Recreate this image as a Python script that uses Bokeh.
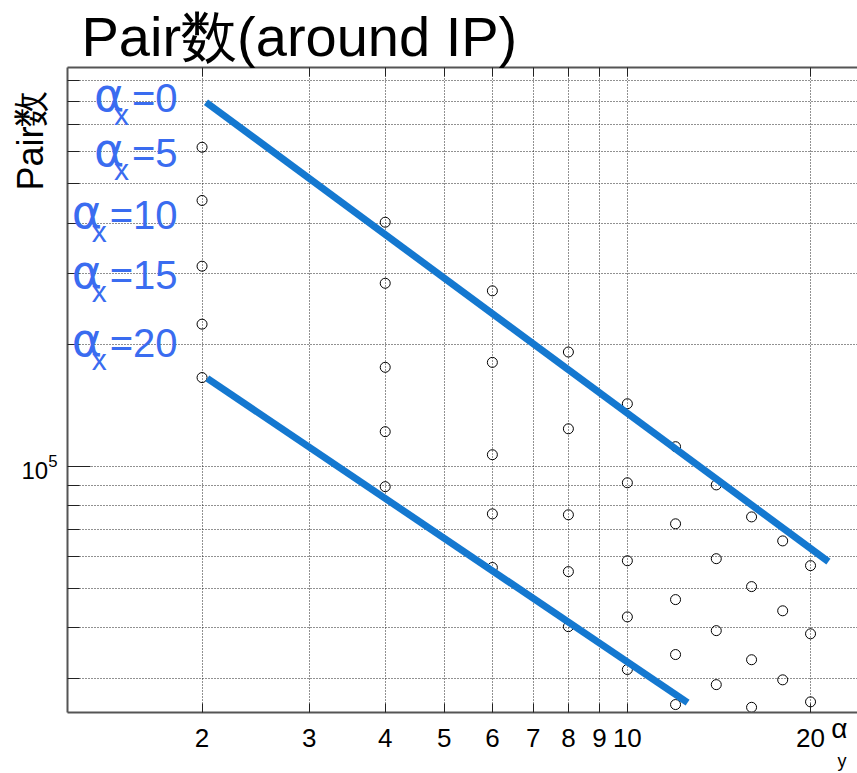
import numpy as np
from bokeh.plotting import figure
from bokeh.models import Range1d, FixedTicker, LogAxis, Label, Title
from bokeh.embed import file_html
from bokeh.resources import INLINE

# alpha_y settings (horizontal axis)
alpha_y = [2, 4, 6, 8, 10, 12, 14, 16, 18, 20]

# Pair counts around the IP, one list per alpha_x setting
pairs_ax0 = [6.16e5, 4.02e5, 2.72e5, 1.92e5, 1.43e5, 1.12e5, 9.01e4, 7.51e4, 6.55e4, 5.69e4]
pairs_ax5 = [4.55e5, 2.84e5, 1.81e5, 1.24e5, 9.12e4, 7.22e4, 5.92e4, 5.05e4, 4.40e4, 3.86e4]
pairs_ax10 = [3.13e5, 1.76e5, 1.07e5, 7.60e4, 5.85e4, 4.69e4, 3.93e4, 3.33e4, 2.97e4, 2.62e4]
pairs_ax15 = [2.25e5, 1.22e5, 7.64e4, 5.50e4, 4.25e4, 3.43e4, 2.89e4, 2.54e4]
pairs_ax20 = [1.66e5, 8.92e4, 5.63e4, 4.02e4, 3.15e4, 2.58e4]

alpha_x_labels = ["0", "5", "10", "15", "20"]
series = [pairs_ax0, pairs_ax5, pairs_ax10, pairs_ax15, pairs_ax20]

# Power-law guide lines (end points)
guide_upper_x = [2.03, 21.4]
guide_upper_y = [7.96e5, 5.82e4]
guide_lower_x = [2.04, 12.56]
guide_lower_y = [1.653e5, 2.61e4]

# Axis ticks
x_ticks = [2, 3, 4, 5, 6, 7, 8, 9, 10, 20]
y_major_ticks = [1e5]
y_minor_ticks = [3e4, 4e4, 5e4, 6e4, 7e4, 8e4, 9e4,
                 2e5, 3e5, 4e5, 5e5, 6e5, 7e5, 8e5, 9e5]

FONT = "Liberation Sans"
LABEL_BLUE = "#3a6cf0"
LINE_BLUE = "#1478d0"
AXIS_GREY = "#555555"
TICK_COLOR = "#222222"

# frame geometry on the canvas
LEFT, TOP, BOTTOM = 67, 67, 713

p = figure(width=857, height=773,
           x_axis_type="log", y_axis_type="log",
           x_range=Range1d(1.202, 23.89), y_range=Range1d(2.466e4, 9.70e5),
           min_border_left=LEFT, min_border_right=0,
           min_border_top=TOP, min_border_bottom=773 - BOTTOM,
           output_backend="svg", toolbar_location=None)
p.outline_line_color = None
p.background_fill_color = "white"
p.border_fill_color = "white"

# title
p.title.text = "Pair数(around IP)"
p.title.text_font = FONT
p.title.text_font_size = "56px"
p.title.text_font_style = "normal"
p.title.text_color = "black"
p.title.align = "left"
p.title.offset = 14
p.title.standoff = 0

# dotted grid on every tick position
p.xgrid.ticker = FixedTicker(ticks=x_ticks)
p.ygrid.ticker = FixedTicker(ticks=sorted(y_major_ticks + y_minor_ticks))
for g in (p.xgrid, p.ygrid):
    g.grid_line_color = "#222222"
    g.grid_line_dash = "1 2"
    g.grid_line_width = 1

# bottom axis
xa = p.xaxis[0]
xa.ticker = FixedTicker(ticks=x_ticks, minor_ticks=[])
xa.major_tick_in = 9
xa.major_tick_out = 0
xa.major_tick_line_color = TICK_COLOR
xa.axis_line_color = AXIS_GREY
xa.axis_line_width = 2
xa.major_label_text_font = FONT
xa.major_label_text_font_size = "26px"
xa.major_label_text_color = "black"
xa.major_label_standoff = 16

# left axis
ya = p.yaxis[0]
ya.ticker = FixedTicker(ticks=y_major_ticks, minor_ticks=y_minor_ticks)
ya.major_tick_in = 23
ya.major_tick_out = 0
ya.minor_tick_in = 12
ya.minor_tick_out = 0
ya.major_tick_line_color = TICK_COLOR
ya.minor_tick_line_color = TICK_COLOR
ya.axis_line_color = AXIS_GREY
ya.axis_line_width = 2
ya.major_label_text_font = FONT
ya.major_label_text_font_size = "24px"
ya.major_label_text_color = "black"
ya.major_label_standoff = 10

# top axis: tick marks only
top_axis = LogAxis(ticker=FixedTicker(ticks=[], minor_ticks=x_ticks),
                   minor_tick_in=9, minor_tick_out=0,
                   minor_tick_line_color=TICK_COLOR,
                   axis_line_color=AXIS_GREY, axis_line_width=2,
                   major_label_standoff=0)
p.add_layout(top_axis, "above")

# vertical axis title, near the top of the left side
p.add_layout(Title(text="Pair数", text_font=FONT, text_font_size="36px",
                   text_font_style="normal", text_color="black",
                   align="right", offset=23, vertical_align="bottom",
                   standoff=-64), "left")

# horizontal axis title "α" with its subscript "y" below, at the right end
p.add_layout(Title(text="y", text_font=FONT, text_font_size="18px",
                   text_font_style="normal", text_color="black",
                   align="right", offset=11, vertical_align="top",
                   standoff=2), "below")
p.add_layout(Title(text="α", text_font=FONT, text_font_size="28px",
                   text_font_style="normal", text_color="black",
                   align="right", offset=10, vertical_align="top",
                   standoff=-122), "below")

# data points
for vals in series:
    p.scatter(alpha_y[:len(vals)], vals, marker="circle", size=10,
              fill_color=None, line_color="black", line_width=1)

# guide lines
p.line(guide_upper_x, guide_upper_y, line_width=7, line_color=LINE_BLUE, line_cap="butt")
p.line(guide_lower_x, guide_lower_y, line_width=7, line_color=LINE_BLUE, line_cap="butt")


def place(text, cx, cy, size, font=FONT):
    """Blue annotation text with its baseline at canvas pixel (cx, cy)."""
    p.add_layout(Label(x=cx - LEFT, y=BOTTOM - cy + 0.42 * size,
                       x_units="screen", y_units="screen",
                       text=text, text_font=font, text_font_size=f"{size}px",
                       text_color=LABEL_BLUE, text_align="left",
                       text_baseline="alphabetic"))


# alpha_x annotations: α, subscript x, "=value"
label_baselines = [115, 170, 232, 292, 360]
for lab, base in zip(alpha_x_labels, label_baselines):
    eq_width = 40 * (0.584 + 0.556 * len(lab))
    left = 177 - eq_width - 37
    place("α", left - 1, base, 46, font="DejaVu Sans")
    place("x", left + 19, base + 13, 30)
    place("=" + lab, left + 37, base, 40)

open("out.html", "w").write(file_html(p, INLINE))
